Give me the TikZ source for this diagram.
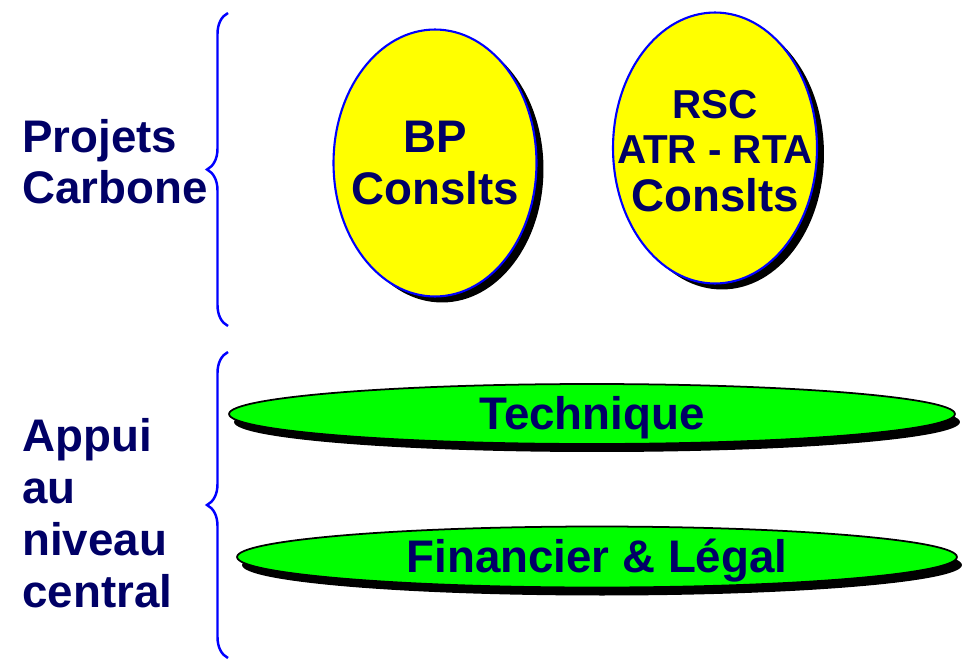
\documentclass[tikz,border=0pt]{standalone}
\usepackage{fontspec}
\setmainfont{Liberation Sans}
\usepackage{xcolor}
\usetikzlibrary{shapes.geometric,shadows,decorations.pathreplacing}

\definecolor{navytext}{HTML}{000066}
\definecolor{discyellow}{HTML}{FFFF00}
\definecolor{discgreen}{HTML}{00FF00}
\definecolor{braceblue}{HTML}{0000FF}

\begin{document}
\begin{tikzpicture}[
  x=0.02cm, y=-0.02cm,
  bigtext/.style={text=navytext, font=\bfseries\fontsize{26}{30}\selectfont, align=center, inner sep=0},
  sidetext/.style={bigtext, align=left, anchor=base west},
  yellowdisc/.style={ellipse, draw=braceblue, line width=1.2pt, fill=discyellow, inner sep=0,
    drop shadow={shadow xshift=0.14cm, shadow yshift=-0.12cm, fill=black, opacity=1}},
  greendisc/.style={ellipse, draw=black, line width=1pt, fill=discgreen, inner sep=0,
    drop shadow={shadow xshift=0.1cm, shadow yshift=-0.16cm, fill=black, opacity=1}},
  curlybrace/.style={draw=braceblue, line width=1.4pt, decorate, decoration={brace, amplitude=0.42cm}}
]
  \useasboundingbox (0,0) rectangle (963,659);

  % left labels (anchored on the last baseline)
  \node[sidetext, font=\bfseries\fontsize{26}{28.5}\selectfont] (carbone) at (22,203) {Projets\\Carbone};
  \node[sidetext, font=\bfseries\fontsize{26}{29.5}\selectfont] (central) at (22,607) {Appui\\au\\niveau\\central};

  % braces
  \draw[curlybrace] (228,326) -- (228,13);
  \draw[curlybrace] (228,658) -- (228,352);

  % projects
  \node[yellowdisc, minimum width=4.06cm, minimum height=5.34cm] (bp) at (435,163) {};
  \node[bigtext] (bplabel) at (bp.center) {BP\\Conslts};
  \node[yellowdisc, minimum width=4.08cm, minimum height=5.42cm] (rsc) at (715,148) {};
  \node[bigtext] (rsclabel) at ([yshift=-2pt]rsc.center) {{\fontsize{23}{24}\selectfont RSC}\\[-4.4pt]{\fontsize{23}{24}\selectfont ATR - RTA}\\[-2.7pt]Conslts};

  % central support
  \node[greendisc, minimum width=14.52cm, minimum height=1.2cm] (tech) at (592,414) {};
  \node[bigtext] (techlabel) at ([yshift=-2pt]tech.center) {Technique};
  \node[greendisc, minimum width=14.4cm, minimum height=1.22cm] (fin) at (597,557) {};
  \node[bigtext] (finlabel) at ([yshift=-2pt]fin.center) {Financier \& Légal};
\end{tikzpicture}
\end{document}
